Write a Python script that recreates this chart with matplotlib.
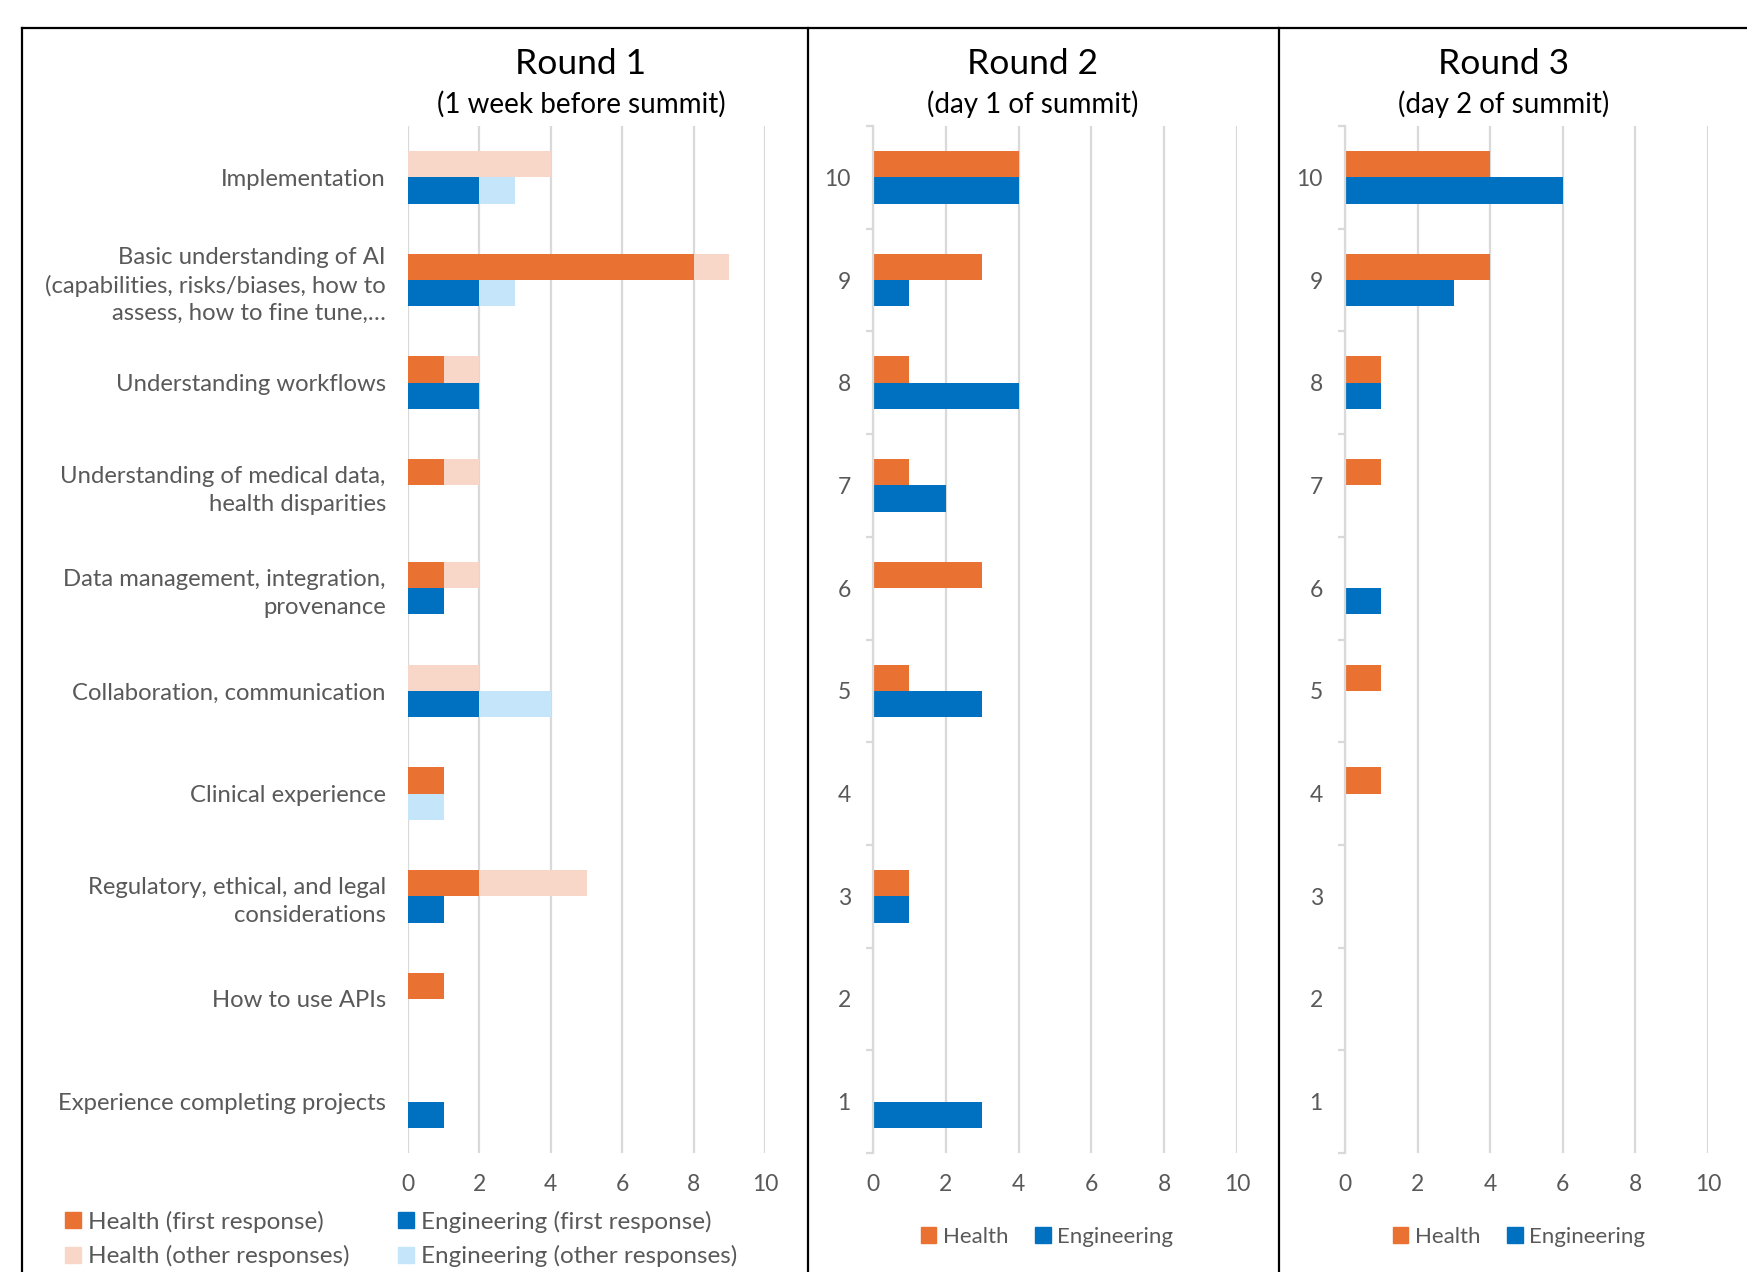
import matplotlib.pyplot as plt
from matplotlib.lines import Line2D
from matplotlib.patches import Patch
import numpy as np

plt.rcParams['font.family'] = ['Lato', 'DejaVu Sans']

# Round 1 categories, top to bottom
topics = ['Implementation',
          'Basic understanding of AI\n(capabilities, risks/biases, how to\nassess, how to fine tune,\u2026',
          'Understanding workflows',
          'Understanding of medical data,\nhealth disparities',
          'Data management, integration,\nprovenance',
          'Collaboration, communication',
          'Clinical experience',
          'Regulatory, ethical, and legal\nconsiderations',
          'How to use APIs',
          'Experience completing projects']
health_first = [0, 8, 1, 1, 1, 0, 1, 2, 1, 0]
health_other = [4, 1, 1, 1, 1, 2, 0, 3, 0, 0]
eng_first = [2, 2, 2, 0, 1, 2, 0, 1, 0, 1]
eng_other = [1, 1, 0, 0, 0, 2, 1, 0, 0, 0]

# Rounds 2 and 3, ranks top to bottom
ranks = ['10', '9', '8', '7', '6', '5', '4', '3', '2', '1']
r2_health = [4, 3, 1, 1, 3, 1, 0, 1, 0, 0]
r2_eng = [4, 1, 4, 2, 0, 3, 0, 1, 0, 3]
r3_health = [4, 4, 1, 1, 0, 1, 1, 0, 0, 0]
r3_eng = [6, 3, 1, 0, 1, 0, 0, 0, 0, 0]

ORANGE = '#E97132'
ORANGE_L = '#F8D7C8'
BLUE = '#0070C0'
BLUE_L = '#C5E5FB'
GRID = '#D9D9D9'
TXT = '#595959'

W, H = 1747, 1272
fig = plt.figure(figsize=(W / 100, H / 100), dpi=100)


def fx(px):
    return px / W


def fy(py):
    return 1 - py / H


def style_axis(ax, labels, fs, rank_ticks):
    n = len(labels)
    y = np.arange(n)
    ax.set_xlim(0, 10)
    ax.set_ylim(n - 0.5, -0.5)
    ax.set_xticks(range(0, 11, 2))
    ax.set_yticks(y)
    ax.set_yticklabels(labels, fontsize=fs, color=TXT, linespacing=1.38)
    ax.tick_params(axis='x', length=0, pad=15, labelsize=16.5, labelcolor=TXT)
    ax.tick_params(axis='y', length=0, pad=16)
    ax.grid(axis='x', color=GRID, lw=1.6)
    ax.set_axisbelow(True)
    for s in ['top', 'right', 'bottom']:
        ax.spines[s].set_visible(False)
    if rank_ticks:
        ax.spines['left'].set_color(GRID)
        ax.spines['left'].set_linewidth(1.6)
        ax.set_yticks(np.arange(n + 1) - 0.5, minor=True)
        ax.tick_params(axis='y', which='minor', length=5, width=1.6, color=GRID)
    else:
        ax.spines['left'].set_visible(False)


bh = 0.256
y = np.arange(len(topics))

# Round 1
ax1 = fig.add_axes([fx(408), fy(1153), fx(765 - 408), (1153 - 126) / H])
ax1.barh(y - bh / 2, health_first, height=bh, color=ORANGE)
ax1.barh(y - bh / 2, health_other, left=health_first, height=bh, color=ORANGE_L)
ax1.barh(y + bh / 2, eng_first, height=bh, color=BLUE)
ax1.barh(y + bh / 2, eng_other, left=eng_first, height=bh, color=BLUE_L)
style_axis(ax1, topics, 17.2, False)

# Round 2
ax2 = fig.add_axes([fx(873), fy(1153), fx(1237 - 873), (1153 - 126) / H])
ax2.barh(y - bh / 2, r2_health, height=bh, color=ORANGE)
ax2.barh(y + bh / 2, r2_eng, height=bh, color=BLUE)
style_axis(ax2, ranks, 16.5, True)

# Round 3
ax3 = fig.add_axes([fx(1345), fy(1153), fx(1708 - 1345), (1153 - 126) / H])
ax3.barh(y - bh / 2, r3_health, height=bh, color=ORANGE)
ax3.barh(y + bh / 2, r3_eng, height=bh, color=BLUE)
style_axis(ax3, ranks, 16.5, True)

# titles
titles = [('Round 1', '(1 week before summit)', 581),
          ('Round 2', '(day 1 of summit)', 1033),
          ('Round 3', '(day 2 of summit)', 1504)]
for t, sub, xc in titles:
    fig.text(fx(xc), fy(64), t, fontsize=25.5, ha='center', va='center', color='black')
    fig.text(fx(xc), fy(104), sub, fontsize=20, ha='center', va='center', color='black')

# legends
h1 = [Patch(color=ORANGE), Patch(color=ORANGE_L), Patch(color=BLUE), Patch(color=BLUE_L)]
l1 = ['Health (first response)', 'Health (other responses)',
      'Engineering (first response)', 'Engineering (other responses)']
fig.legend(h1, l1, ncol=2, loc='center left', bbox_to_anchor=(fx(43), fy(1239)),
           frameon=False, fontsize=17.5, labelcolor=TXT, handlelength=0.65, handleheight=0.65,
           handletextpad=0.3, columnspacing=2.0, labelspacing=0.5)
h2 = [Patch(color=ORANGE), Patch(color=BLUE)]
for xc in [1047, 1519]:
    fig.legend(h2, ['Health', 'Engineering'], ncol=2, loc='center',
               bbox_to_anchor=(fx(xc), fy(1237)), frameon=False, fontsize=16,
               labelcolor=TXT, handlelength=0.7, handleheight=0.7,
               handletextpad=0.3, columnspacing=1.2)

# panel frame
for xs, ys in [([22, 1760], [28, 28]), ([22, 22], [28, 1290]),
               ([808, 808], [28, 1290]), ([1279, 1279], [28, 1290])]:
    fig.add_artist(Line2D([fx(v) for v in xs], [fy(v) for v in ys], color='black', lw=1.6))

fig.savefig('out.png', dpi=100)
